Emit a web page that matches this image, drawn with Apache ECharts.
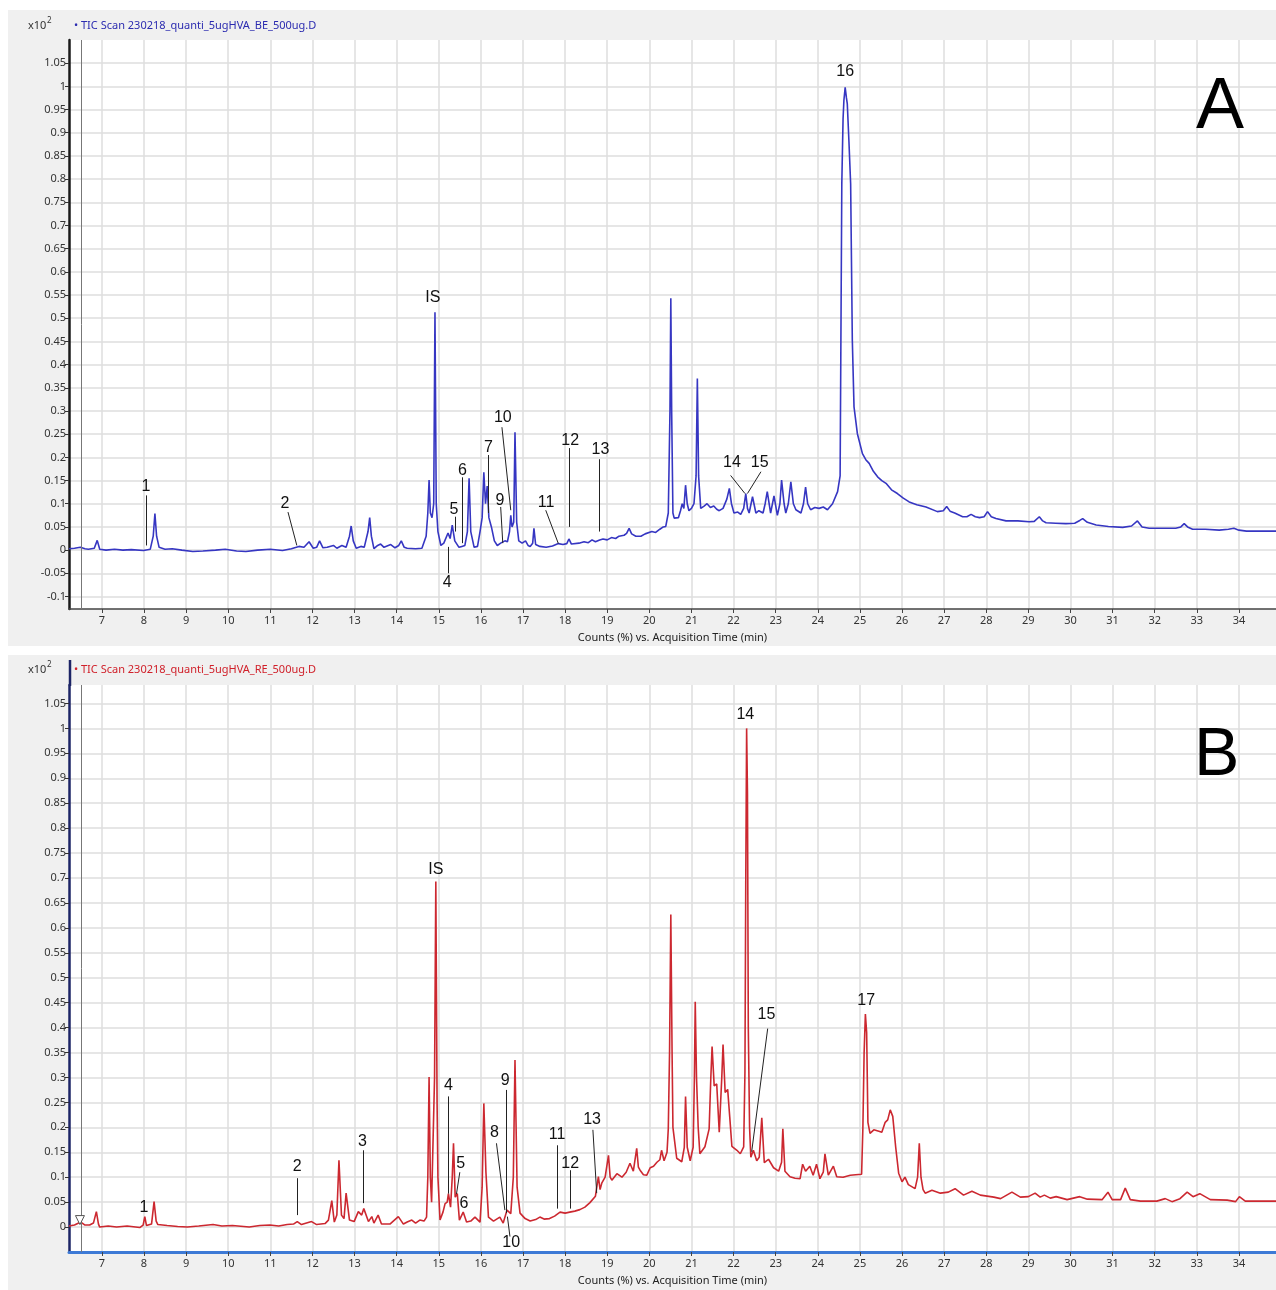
<!DOCTYPE html>
<html>
<head>
<meta charset="utf-8">
<title>TIC Scan BE / RE</title>
<script src="https://cdn.jsdelivr.net/npm/echarts@6/dist/echarts.min.js"></script>
<style>
  html, body { margin: 0; padding: 0; background: #fff; }
  #main { width: 1276px; height: 1290px; }
</style>
</head>
<body>
<div id="main"></div>
<script>
// retention time ticks (min) and y ticks (x10^2 counts %)
var xTicks = [7, 8, 9, 10, 11, 12, 13, 14, 15, 16, 17, 18, 19, 20, 21, 22, 23, 24, 25, 26, 27, 28, 29, 30, 31, 32, 33, 34];
var yTicksA = [-0.1, -0.05, 0, 0.05, 0.1, 0.15, 0.2, 0.25, 0.3, 0.35, 0.4, 0.45, 0.5, 0.55, 0.6, 0.65, 0.7, 0.75, 0.8, 0.85, 0.9, 0.95, 1, 1.05];
var yTicksB = [0, 0.05, 0.1, 0.15, 0.2, 0.25, 0.3, 0.35, 0.4, 0.45, 0.5, 0.55, 0.6, 0.65, 0.7, 0.75, 0.8, 0.85, 0.9, 0.95, 1, 1.05];

// A : TIC Scan 230218_quanti_5ugHVA_BE_500ug.D  [time, response]
var ticA = [
  [6.22,0.003],[6.35,0.004],[6.49,0.006],[6.6,0.003],[6.68,0.002],[6.82,0.004],[6.89,0.021],[6.95,0.002],[7.1,0.0],[7.3,0.002],
  [7.5,0.0],[7.7,0.001],[7.99,-0.001],[8.15,0.002],[8.22,0.03],[8.26,0.079],[8.3,0.03],[8.36,0.006],[8.5,0.002],[8.67,0.003],
  [8.9,0.0],[9.16,-0.003],[9.4,-0.002],[9.7,0.0],[9.93,0.002],[10.2,-0.002],[10.42,-0.003],[10.7,0.0],[11.0,0.002],[11.29,-0.001],
  [11.5,0.003],[11.68,0.008],[11.8,0.006],[11.92,0.018],[12.02,0.004],[12.1,0.006],[12.17,0.02],[12.25,0.005],[12.35,0.006],[12.5,0.01],
  [12.58,0.004],[12.7,0.01],[12.8,0.006],[12.88,0.03],[12.92,0.052],[12.97,0.02],[13.04,0.004],[13.15,0.008],[13.23,0.006],[13.32,0.04],
  [13.36,0.07],[13.4,0.03],[13.46,0.003],[13.55,0.01],[13.62,0.013],[13.7,0.006],[13.86,0.012],[13.96,0.005],[14.05,0.01],[14.11,0.02],
  [14.18,0.006],[14.25,0.004],[14.45,0.003],[14.6,0.004],[14.7,0.03],[14.74,0.08],[14.77,0.151],[14.8,0.08],[14.84,0.07],[14.88,0.1],
  [14.91,0.513],[14.94,0.1],[14.98,0.04],[15.05,0.01],[15.12,0.015],[15.22,0.037],[15.27,0.025],[15.32,0.054],[15.38,0.02],[15.48,0.006],
  [15.55,0.008],[15.62,0.01],[15.68,0.04],[15.72,0.155],[15.76,0.04],[15.84,0.006],[15.92,0.008],[15.98,0.04],[16.03,0.07],[16.07,0.168],
  [16.11,0.1],[16.15,0.138],[16.19,0.07],[16.25,0.05],[16.32,0.02],[16.39,0.01],[16.47,0.015],[16.57,0.02],[16.63,0.018],[16.68,0.04],
  [16.71,0.075],[16.74,0.05],[16.78,0.06],[16.81,0.254],[16.85,0.06],[16.9,0.02],[16.98,0.015],[17.06,0.02],[17.12,0.01],[17.17,0.008],
  [17.23,0.015],[17.26,0.047],[17.3,0.012],[17.4,0.008],[17.55,0.006],[17.7,0.009],[17.84,0.014],[17.95,0.012],[18.04,0.014],[18.09,0.024],
  [18.15,0.013],[18.33,0.015],[18.45,0.018],[18.55,0.016],[18.64,0.022],[18.72,0.018],[18.82,0.022],[18.9,0.024],[19.0,0.022],[19.1,0.027],
  [19.2,0.025],[19.28,0.03],[19.4,0.032],[19.46,0.036],[19.52,0.047],[19.58,0.035],[19.68,0.03],[19.8,0.03],[19.9,0.035],[20.06,0.04],
  [20.15,0.038],[20.25,0.045],[20.33,0.05],[20.39,0.051],[20.45,0.08],[20.49,0.3],[20.51,0.543],[20.53,0.3],[20.56,0.08],[20.59,0.069],
  [20.69,0.07],[20.74,0.085],[20.78,0.1],[20.82,0.09],[20.86,0.14],[20.9,0.1],[20.94,0.085],[21.0,0.09],[21.06,0.1],[21.11,0.16],
  [21.14,0.37],[21.17,0.16],[21.22,0.09],[21.3,0.095],[21.37,0.1],[21.45,0.092],[21.53,0.095],[21.6,0.088],[21.66,0.085],[21.75,0.09],
  [21.84,0.11],[21.9,0.133],[21.95,0.1],[22.01,0.08],[22.1,0.082],[22.17,0.077],[22.24,0.09],[22.29,0.122],[22.33,0.09],[22.37,0.08],
  [22.45,0.115],[22.53,0.08],[22.6,0.085],[22.7,0.08],[22.75,0.1],[22.8,0.126],[22.88,0.08],[22.96,0.117],[23.04,0.075],[23.1,0.1],
  [23.14,0.151],[23.2,0.1],[23.24,0.08],[23.3,0.1],[23.36,0.147],[23.42,0.1],[23.48,0.087],[23.6,0.08],[23.66,0.1],[23.71,0.136],
  [23.76,0.1],[23.83,0.087],[23.93,0.092],[24.03,0.09],[24.13,0.093],[24.23,0.087],[24.35,0.1],[24.47,0.126],[24.53,0.16],[24.57,0.79],
  [24.6,0.93],[24.62,0.97],[24.65,0.998],[24.68,0.975],[24.7,0.963],[24.74,0.88],[24.78,0.79],[24.82,0.452],[24.86,0.309],[24.94,0.251],
  [25.06,0.208],[25.14,0.195],[25.22,0.187],[25.32,0.17],[25.42,0.158],[25.52,0.15],[25.62,0.144],[25.75,0.13],[25.89,0.122],[26.03,0.112],
  [26.17,0.104],[26.35,0.098],[26.57,0.093],[26.84,0.083],[26.98,0.085],[27.06,0.094],[27.14,0.084],[27.25,0.08],[27.44,0.072],[27.54,0.072],
  [27.64,0.077],[27.74,0.072],[27.84,0.07],[27.95,0.072],[28.03,0.083],[28.12,0.072],[28.23,0.068],[28.47,0.063],[28.75,0.063],[29.02,0.061],
  [29.14,0.062],[29.26,0.072],[29.34,0.063],[29.42,0.059],[29.65,0.058],[29.89,0.057],[30.1,0.058],[30.22,0.064],[30.29,0.068],[30.4,0.06],
  [30.61,0.054],[30.9,0.051],[31.24,0.049],[31.45,0.052],[31.59,0.063],[31.7,0.05],[31.87,0.047],[32.2,0.047],[32.5,0.047],[32.62,0.05],
  [32.7,0.057],[32.78,0.05],[32.9,0.045],[33.2,0.045],[33.53,0.043],[33.75,0.045],[33.88,0.047],[34.0,0.043],[34.18,0.041],[34.5,0.041],
  [34.88,0.041]
];

// B : TIC Scan 230218_quanti_5ugHVA_RE_500ug.D
var ticB = [
  [6.22,0.002],[6.35,0.004],[6.5,0.01],[6.6,0.004],[6.71,0.004],[6.8,0.008],[6.87,0.031],[6.92,0.006],[6.95,0.0],[7.15,0.002],
  [7.35,0.0],[7.6,0.002],[7.9,-0.001],[7.98,0.004],[8.02,0.021],[8.06,0.003],[8.1,0.0],[8.18,0.006],[8.24,0.051],[8.29,0.012],
  [8.33,0.005],[8.55,0.003],[8.8,0.001],[9.03,0.0],[9.3,0.002],[9.64,0.005],[9.85,0.002],[10.1,0.003],[10.5,0.0],[10.75,0.003],
  [10.99,0.004],[11.2,0.002],[11.4,0.005],[11.55,0.006],[11.64,0.011],[11.74,0.005],[11.86,0.008],[11.98,0.011],[12.1,0.005],[12.3,0.007],
  [12.38,0.014],[12.46,0.053],[12.52,0.01],[12.58,0.024],[12.63,0.134],[12.69,0.024],[12.75,0.017],[12.8,0.068],[12.88,0.014],[12.99,0.011],
  [13.09,0.031],[13.17,0.024],[13.22,0.037],[13.33,0.011],[13.41,0.021],[13.46,0.008],[13.56,0.024],[13.64,0.006],[13.84,0.006],[14.04,0.021],
  [14.16,0.006],[14.25,0.01],[14.36,0.014],[14.45,0.008],[14.55,0.014],[14.65,0.012],[14.71,0.02],[14.74,0.1],[14.77,0.301],[14.8,0.1],
  [14.83,0.05],[14.87,0.05],[14.9,0.3],[14.93,0.693],[14.96,0.25],[14.98,0.1],[15.03,0.014],[15.1,0.03],[15.15,0.047],[15.2,0.05],
  [15.23,0.067],[15.28,0.04],[15.32,0.1],[15.35,0.168],[15.39,0.06],[15.44,0.067],[15.49,0.014],[15.58,0.03],[15.66,0.01],[15.76,0.012],
  [15.86,0.02],[15.98,0.01],[16.03,0.08],[16.07,0.248],[16.12,0.11],[16.18,0.02],[16.3,0.012],[16.45,0.02],[16.53,0.008],[16.62,0.034],
  [16.71,0.027],[16.77,0.1],[16.81,0.335],[16.86,0.08],[16.93,0.028],[17.05,0.017],[17.17,0.012],[17.3,0.015],[17.4,0.02],[17.5,0.016],
  [17.63,0.017],[17.75,0.022],[17.88,0.03],[18.0,0.028],[18.11,0.03],[18.23,0.032],[18.35,0.035],[18.47,0.04],[18.59,0.049],[18.72,0.062],
  [18.79,0.101],[18.83,0.075],[18.87,0.088],[18.95,0.1],[19.03,0.144],[19.07,0.1],[19.11,0.094],[19.23,0.107],[19.35,0.1],[19.45,0.11],
  [19.54,0.128],[19.62,0.112],[19.7,0.158],[19.74,0.12],[19.78,0.114],[19.86,0.105],[19.94,0.104],[20.02,0.119],[20.1,0.122],[20.18,0.13],
  [20.25,0.135],[20.29,0.154],[20.35,0.133],[20.42,0.15],[20.45,0.197],[20.48,0.35],[20.51,0.627],[20.54,0.35],[20.56,0.2],[20.65,0.138],
  [20.77,0.131],[20.83,0.16],[20.86,0.262],[20.9,0.16],[20.97,0.133],[21.04,0.16],[21.07,0.3],[21.09,0.452],[21.12,0.3],[21.16,0.2],
  [21.2,0.147],[21.32,0.161],[21.42,0.197],[21.46,0.3],[21.49,0.362],[21.54,0.283],[21.6,0.287],[21.66,0.19],[21.72,0.3],[21.75,0.366],
  [21.8,0.27],[21.86,0.276],[21.91,0.22],[21.96,0.162],[22.08,0.154],[22.16,0.147],[22.24,0.161],[22.27,0.31],[22.29,0.7],[22.31,1.0],
  [22.33,0.87],[22.35,0.4],[22.38,0.2],[22.41,0.14],[22.47,0.154],[22.55,0.133],[22.61,0.14],[22.67,0.219],[22.73,0.129],[22.83,0.136],
  [22.95,0.119],[23.07,0.112],[23.14,0.13],[23.17,0.197],[23.22,0.112],[23.34,0.101],[23.46,0.098],[23.58,0.097],[23.64,0.126],[23.71,0.112],
  [23.81,0.122],[23.89,0.104],[23.97,0.126],[24.05,0.097],[24.13,0.11],[24.17,0.147],[24.25,0.104],[24.37,0.122],[24.45,0.101],[24.6,0.1],
  [24.77,0.104],[24.9,0.105],[25.04,0.106],[25.07,0.197],[25.1,0.35],[25.13,0.427],[25.16,0.39],[25.19,0.21],[25.24,0.188],[25.33,0.195],
  [25.45,0.192],[25.52,0.19],[25.6,0.21],[25.66,0.215],[25.72,0.235],[25.78,0.222],[25.85,0.16],[25.92,0.108],[26.0,0.091],[26.07,0.1],
  [26.15,0.085],[26.31,0.077],[26.37,0.1],[26.41,0.168],[26.45,0.1],[26.5,0.075],[26.55,0.068],[26.71,0.074],[26.91,0.068],[27.1,0.07],
  [27.26,0.077],[27.46,0.064],[27.66,0.072],[27.86,0.064],[28.18,0.06],[28.34,0.057],[28.61,0.07],[28.81,0.06],[29.0,0.061],[29.16,0.068],
  [29.28,0.06],[29.38,0.064],[29.52,0.058],[29.66,0.061],[29.92,0.055],[30.22,0.061],[30.4,0.056],[30.75,0.055],[30.89,0.07],[30.99,0.055],
  [31.19,0.055],[31.3,0.078],[31.42,0.055],[31.66,0.052],[32.05,0.052],[32.25,0.057],[32.41,0.051],[32.6,0.057],[32.77,0.07],[32.91,0.061],
  [33.07,0.067],[33.32,0.055],[33.72,0.054],[33.92,0.051],[34.01,0.061],[34.15,0.052],[34.88,0.052]
];

// peak numbers [text, time, response] and leader lines [t1, v1, t2, v2]
var labelsA = [
  ['1',8.05,0.136],['2',11.35,0.1],['IS',14.86,0.545],['4',15.2,-0.071],['5',15.36,0.088],['6',15.56,0.172],
  ['7',16.18,0.222],['9',16.45,0.106],['10',16.52,0.285],['11',17.55,0.103],['12',18.12,0.237],['13',18.84,0.216],
  ['14',21.96,0.188],['15',22.62,0.188],['16',24.65,1.032]
];
var leadersA = [
  [8.05,0.118,8.05,0.01],[11.42,0.082,11.63,0.01],[15.23,0.007,15.23,-0.05],[15.38,0.072,15.38,0.04],
  [15.56,0.157,15.56,0.015],[16.18,0.205,16.18,0.08],[16.47,0.093,16.52,0.015],[16.5,0.265,16.71,0.086],
  [17.54,0.086,17.84,0.014],[18.11,0.22,18.11,0.05],[18.82,0.196,18.82,0.04],
  [21.93,0.161,22.27,0.122],[22.65,0.169,22.33,0.122]
];
var labelsB = [
  ['1',8.0,0.04],['2',11.64,0.122],['3',13.19,0.172],['IS',14.93,0.716],['4',15.23,0.283],['5',15.52,0.128],
  ['6',15.6,0.048],['8',16.32,0.189],['9',16.58,0.293],['10',16.72,-0.032],['11',17.81,0.185],['12',18.12,0.128],
  ['13',18.64,0.215],['14',22.28,1.027],['15',22.78,0.427],['17',25.15,0.455]
];
var leadersB = [
  [11.65,0.098,11.65,0.024],[13.21,0.154,13.21,0.048],[15.23,0.262,15.23,0.067],[15.5,0.11,15.42,0.066],
  [16.37,0.168,16.57,0.034],[16.6,0.275,16.6,0.028],[16.63,0.021,16.69,-0.019],[17.81,0.164,17.81,0.037],
  [18.13,0.114,18.13,0.037],[18.66,0.195,18.75,0.068],[22.81,0.398,22.43,0.151]
];
var cursorTime = 6.5;

var txtFont = '"Liberation Sans", Arial, sans-serif';
var axFont = '"Noto Sans", "DejaVu Sans", sans-serif';

function fmtY(v) {
  return String(+Number(v).toFixed(2));
}

function makeX(idx) {
  return {
    type: 'value', gridIndex: idx, min: 6.22, max: 34.88,
    name: 'Counts (%) vs. Acquisition Time (min)',
    nameLocation: 'middle', nameGap: 23,
    nameTextStyle: { fontSize: 11, color: '#222', fontFamily: axFont },
    axisLine: { onZero: false, lineStyle: { color: idx === 0 ? '#444' : '#3d7ad6', width: idx === 0 ? 1.5 : 3 } },
    axisTick: { show: true, length: 4, customValues: xTicks, lineStyle: { color: '#444' } },
    axisLabel: { customValues: xTicks, fontSize: 11, color: '#333', margin: 6, fontFamily: axFont },
    splitLine: { show: true, lineStyle: { color: '#dedede', width: 1.5 } }
  };
}

function makeY(idx, min, max, ticks) {
  return {
    type: 'value', gridIndex: idx, min: min, max: max,
    axisLine: { show: true, onZero: false, lineStyle: { color: idx === 0 ? '#1a1a1a' : '#1c2466', width: 2.5 } },
    axisTick: { show: true, length: 4, customValues: ticks, lineStyle: { color: '#333' } },
    axisLabel: { customValues: ticks, fontSize: 11, color: '#333', margin: 3, fontFamily: axFont, formatter: fmtY },
    splitLine: { show: true, lineStyle: { color: '#dedede', width: 1.5 } }
  };
}

function makeSeries(idx, data, color, labels, leaders) {
  var lines = leaders.map(function (l) {
    return [{ coord: [l[0], l[1]] }, { coord: [l[2], l[3]] }];
  });
  lines.push({ xAxis: cursorTime, lineStyle: { color: '#777', width: 1 } });
  var pts = labels.map(function (p) {
    return { name: p[0], coord: [p[1], p[2]] };
  });
  if (idx === 1) {
    pts.push({ name: '', coord: [6.48, 0.014], symbol: 'triangle', symbolSize: 9, symbolRotate: 180,
      itemStyle: { color: '#fff', borderColor: '#555', borderWidth: 1 } });
  }
  return {
    type: 'line', xAxisIndex: idx, yAxisIndex: idx, data: data,
    showSymbol: false, animation: false, silent: true,
    lineStyle: { color: color, width: 1.6 },
    markLine: {
      silent: true, animation: false, symbol: ['none', 'none'],
      label: { show: false },
      lineStyle: { color: '#222', width: 1, type: 'solid' },
      data: lines
    },
    markPoint: {
      silent: true, animation: false, symbol: 'circle', symbolSize: 1,
      itemStyle: { color: 'rgba(0,0,0,0)' },
      label: { show: true, position: 'inside', formatter: '{b}', color: '#111', fontSize: 16, fontFamily: txtFont },
      data: pts
    }
  };
}

function header(top, text, color) {
  return [
    { type: 'text', left: 28, top: top, style: { text: 'x10', fill: '#333', font: '11px ' + axFont } },
    { type: 'text', left: 47, top: top - 3, style: { text: '2', fill: '#333', font: '8px ' + axFont } },
    { type: 'text', left: 74, top: top, style: { text: '\u2022 ' + text, fill: color, font: '11px ' + axFont } }
  ];
}

var chart = echarts.init(document.getElementById('main'));
chart.setOption({
  backgroundColor: '#fff',
  animation: false,
  graphic: [
    { type: 'rect', z: -100, shape: { x: 8, y: 10, width: 1268, height: 636 }, style: { fill: '#f0f0f0' } },
    { type: 'rect', z: -100, shape: { x: 8, y: 655, width: 1268, height: 635 }, style: { fill: '#f0f0f0' } },
    { type: 'line', shape: { x1: 70, y1: 660, x2: 70, y2: 686 }, style: { stroke: '#1c2466', lineWidth: 2.5 } }
  ].concat(
    header(20, 'TIC Scan 230218_quanti_5ugHVA_BE_500ug.D', '#2b2bb0'),
    header(664, 'TIC Scan 230218_quanti_5ugHVA_RE_500ug.D', '#d0202a'),
    [
      { type: 'text', left: 1196, top: 72, z: 10, style: { text: 'A', fill: '#000', font: '72px ' + txtFont } },
      { type: 'text', left: 1194, top: 722, z: 10, style: { text: 'B', fill: '#000', font: '68px ' + txtFont } }
    ]
  ),
  grid: [
    { left: 69, top: 40, right: 0, height: 569, show: true, backgroundColor: '#fff', borderWidth: 0 },
    { left: 69, top: 685, right: 0, height: 567, show: true, backgroundColor: '#fff', borderWidth: 0 }
  ],
  xAxis: [makeX(0), makeX(1)],
  yAxis: [makeY(0, -0.127, 1.1, yTicksA), makeY(1, -0.05, 1.087, yTicksB)],
  series: [
    makeSeries(0, ticA, '#3636c2', labelsA, leadersA),
    makeSeries(1, ticB, '#cc2830', labelsB, leadersB)
  ]
});
</script>
</body>
</html>
